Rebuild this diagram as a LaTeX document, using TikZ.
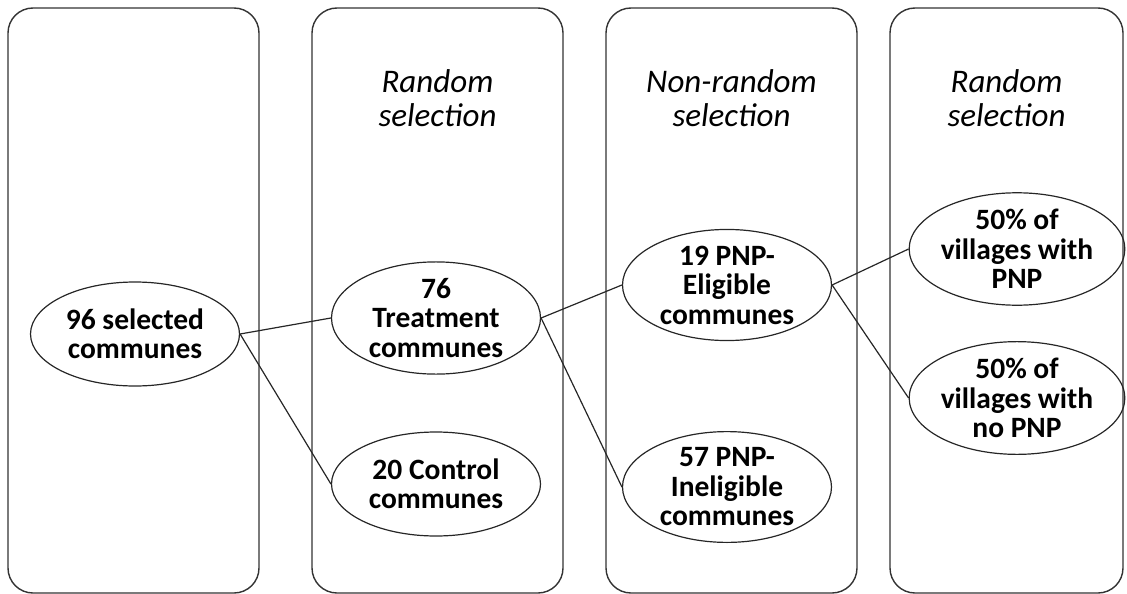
\documentclass[tikz,border=0pt]{standalone}
\usepackage{fontspec}
\setmainfont{Carlito}
\usetikzlibrary{shapes.geometric}
\tikzset{
  panel/.style={draw=black!80, line width=1.4pt, rounded corners=25pt},
  comm/.style={draw=black!85, line width=1.2pt, ellipse, minimum width=209pt, minimum height=104pt, inner sep=0pt, align=center, font=\fontsize{29.5}{29.5}\selectfont\bfseries},
  steplabel/.style={align=center, font=\fontsize{33}{34}\selectfont\itshape},
  link/.style={draw=black!85, line width=1.2pt}
}
\begin{document}
\begin{tikzpicture}[x=1pt,y=-1pt]
\useasboundingbox (0,0) rectangle (1127,594);
\draw[panel] (8,8) rectangle (259,593);
\draw[panel] (312,8) rectangle (563,593);
\draw[panel] (606,8) rectangle (857,593);
\draw[panel] (890,8) rectangle (1123,593);
\node[steplabel] (l2) at (437.5,98) {Random\\selection};
\node[steplabel] (l3) at (731.5,98) {Non-random\\selection};
\node[steplabel] (l4) at (1006.5,98) {Random\\selection};
\node[comm] (e1) at (135,334) {96 selected\\communes};
\node[comm] (e2) at (436,318) {76\\Treatment\\communes};
\node[comm] (e3) at (436,484) {20 Control\\communes};
\node[comm] (e4) at (727,285) {19 PNP-\\Eligible\\communes};
\node[comm] (e5) at (727,487) {57 PNP-\\Ineligible\\communes};
\node[comm] (e6) at (1017,249) {50\% of\\villages with\\PNP};
\node[comm] (e7) at (1017,398) {50\% of\\villages with\\no PNP};
\draw[link] (e1.east) -- (e2.west);
\draw[link] (e1.east) -- (e3.west);
\draw[link] (e2.east) -- (e4.west);
\draw[link] (e2.east) -- (e5.west);
\draw[link] (e4.east) -- (e6.west);
\draw[link] (e4.east) -- (e7.west);
\end{tikzpicture}
\end{document}
